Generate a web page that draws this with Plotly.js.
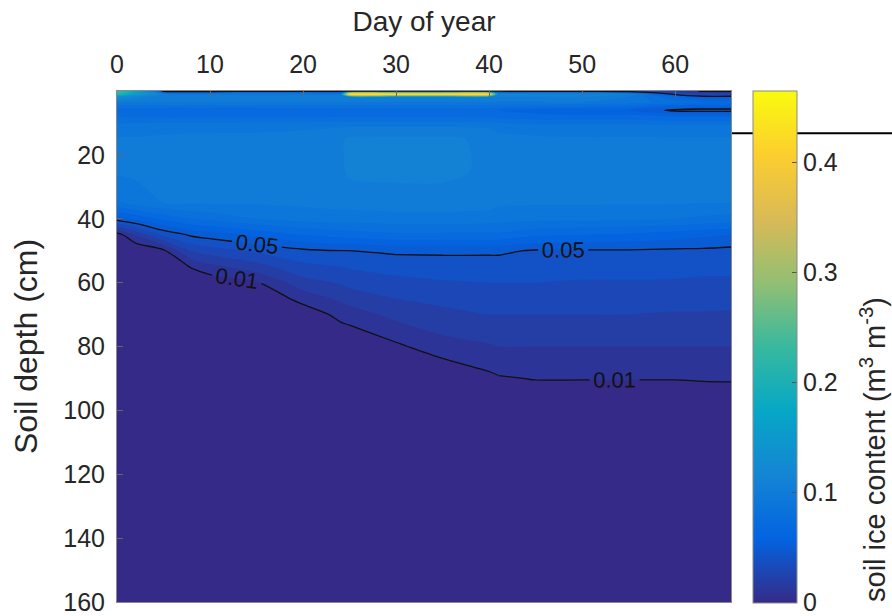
<!DOCTYPE html>
<html>
<head>
<meta charset="utf-8">
<script src="https://cdn.plot.ly/plotly-3.0.1.min.js"></script>
<style>html,body{margin:0;padding:0;background:#fff;}#chart{width:892px;height:616px;}</style>
</head>
<body>
<div id="chart"></div>
<script>
// Day of year (columns)
const days = [0, 2, 5, 8, 10, 15, 20, 24, 25, 30, 35, 40, 41, 45, 50, 55, 60, 63, 66];
// Soil depth in cm (rows)
const depths = [0, 1, 1.8, 3.5, 6, 8, 11, 15, 25, 35, 40, 45, 50, 55, 60, 65, 70, 80, 90, 100, 120, 160];
// Soil ice content (m3 m-3), one array per depth row
const ice_d0   = [0.25, 0.18, 0.04, 0.04, 0.04, 0.045, 0.045, 0.045, 0.045, 0.045, 0.045, 0.045, 0.045, 0.04, 0.04, 0.035, 0.02, 0.008, 0.008];
const ice_d1   = [0.22, 0.16, 0.11, 0.10, 0.10, 0.10, 0.10, 0.10, 0.45, 0.45, 0.45, 0.44, 0.12, 0.12, 0.12, 0.11, 0.045, 0.03, 0.03];
const ice_d2   = [0.14, 0.12, 0.10, 0.10, 0.10, 0.10, 0.10, 0.10, 0.11, 0.11, 0.11, 0.11, 0.11, 0.11, 0.11, 0.10, 0.07, 0.055, 0.055];
const ice_d3   = [0.10, 0.10, 0.10, 0.10, 0.10, 0.10, 0.10, 0.10, 0.10, 0.10, 0.10, 0.10, 0.10, 0.10, 0.10, 0.095, 0.085, 0.08, 0.08];
const ice_d6   = [0.075, 0.074, 0.072, 0.072, 0.072, 0.072, 0.073, 0.073, 0.073, 0.073, 0.073, 0.072, 0.07, 0.065, 0.062, 0.06, 0.047, 0.045, 0.045];
const ice_d8   = [0.08, 0.079, 0.078, 0.078, 0.078, 0.078, 0.078, 0.079, 0.079, 0.079, 0.079, 0.078, 0.077, 0.074, 0.073, 0.073, 0.07, 0.07, 0.07];
const ice_d11  = [0.095, 0.095, 0.096, 0.096, 0.096, 0.097, 0.098, 0.099, 0.099, 0.099, 0.099, 0.098, 0.097, 0.094, 0.094, 0.094, 0.093, 0.093, 0.093];
const ice_d15  = [0.101, 0.101, 0.102, 0.103, 0.103, 0.103, 0.104, 0.108, 0.112, 0.112, 0.112, 0.108, 0.103, 0.102, 0.101, 0.101, 0.101, 0.101, 0.101];
const ice_d25  = [0.102, 0.102, 0.102, 0.103, 0.103, 0.103, 0.104, 0.108, 0.112, 0.113, 0.113, 0.108, 0.104, 0.103, 0.102, 0.102, 0.102, 0.102, 0.102];
const ice_d35  = [0.088, 0.095, 0.1, 0.101, 0.101, 0.101, 0.102, 0.104, 0.104, 0.105, 0.105, 0.104, 0.102, 0.101, 0.101, 0.101, 0.101, 0.1, 0.1];
const ice_d40  = [0.055, 0.062, 0.072, 0.08, 0.083, 0.09, 0.094, 0.095, 0.095, 0.096, 0.096, 0.095, 0.094, 0.093, 0.093, 0.092, 0.09, 0.088, 0.086];
const ice_d45  = [0.005, 0.021, 0.042, 0.052, 0.055, 0.062, 0.07, 0.074, 0.075, 0.078, 0.078, 0.078, 0.078, 0.072, 0.07, 0.068, 0.065, 0.062, 0.06];
const ice_d50  = [0, 0, 0.008, 0.031, 0.035, 0.042, 0.048, 0.05, 0.05, 0.052, 0.052, 0.052, 0.052, 0.049, 0.049, 0.049, 0.048, 0.048, 0.047];
const ice_d55  = [0, 0, 0, 0.011, 0.017, 0.026, 0.037, 0.04, 0.041, 0.044, 0.045, 0.045, 0.045, 0.045, 0.044, 0.044, 0.043, 0.043, 0.043];
const ice_d60  = [0, 0, 0, 0, 0.003, 0.009, 0.026, 0.031, 0.033, 0.037, 0.039, 0.04, 0.04, 0.04, 0.039, 0.039, 0.039, 0.038, 0.038];
const ice_d65  = [0, 0, 0, 0, 0, 0, 0.014, 0.022, 0.024, 0.03, 0.033, 0.035, 0.035, 0.035, 0.034, 0.034, 0.034, 0.034, 0.033];
const ice_d70  = [0, 0, 0, 0, 0, 0, 0.003, 0.013, 0.015, 0.023, 0.027, 0.03, 0.03, 0.03, 0.03, 0.03, 0.029, 0.029, 0.029];
const ice_d80  = [0, 0, 0, 0, 0, 0, 0, 0, 0, 0.008, 0.016, 0.019, 0.02, 0.02, 0.02, 0.02, 0.02, 0.02, 0.02];
const ice_d90  = [0, 0, 0, 0, 0, 0, 0, 0, 0, 0, 0, 0.0075, 0.009, 0.0105, 0.0105, 0.0105, 0.0105, 0.011, 0.0112];
const ice_d100 = [0, 0, 0, 0, 0, 0, 0, 0, 0, 0, 0, 0, 0, 0, 0, 0, 0, 0, 0];
const ice_d120 = [0, 0, 0, 0, 0, 0, 0, 0, 0, 0, 0, 0, 0, 0, 0, 0, 0, 0, 0];
const ice_d160 = [0, 0, 0, 0, 0, 0, 0, 0, 0, 0, 0, 0, 0, 0, 0, 0, 0, 0, 0];
const iceRows = [ice_d0, ice_d1, ice_d2, ice_d3, ice_d6, ice_d8, ice_d11, ice_d15, ice_d25, ice_d35, ice_d40, ice_d45,
                 ice_d50, ice_d55, ice_d60, ice_d65, ice_d70, ice_d80, ice_d90, ice_d100, ice_d120, ice_d160];

const xTicks = [0, 10, 20, 30, 40, 50, 60];
const yTicks = [20, 40, 60, 80, 100, 120, 140, 160];
const cbTicks = [0, 0.1, 0.2, 0.3, 0.4];
const cbTickText = ['0', '0.1', '0.2', '0.3', '0.4'];
const cbTitle = 'soil ice content (m<sup>3</sup> m<sup>-3</sup>)';
const xTitle = 'Day of year';
const yTitle = 'Soil depth (cm)';
const lineLevels = [0.01, 0.05];

const parula = [
  [0.0, '#352a87'], [0.125, '#0363e1'], [0.25, '#1485d4'], [0.375, '#06a7c6'],
  [0.5, '#38b99e'], [0.625, '#92bf73'], [0.75, '#d9ba56'], [0.875, '#fcce2e'], [1.0, '#f9fb0e']
];
const ZMAX = 0.465;
const FONT = 'Liberation Sans, Arial, sans-serif';
const TXT = '#262626';

const fill = {
  type: 'contour', x: days, y: depths, z: iceRows,
  colorscale: parula, zmin: 0, zmax: ZMAX, zauto: false,
  autocontour: false,
  contours: {start: 0.01, end: 0.46, size: 0.01, coloring: 'fill', showlines: false},
  line: {width: 0, smoothing: 0.8},
  showscale: false, hoverinfo: 'skip'
};

// one labelled contour level drawn over a slice of the day columns
function lineTrace(level, i0, i1) {
  return {
    type: 'contour', x: days.slice(i0, i1 + 1), y: depths,
    z: iceRows.map(r => r.slice(i0, i1 + 1)),
    autocontour: false,
    contours: {start: level, end: level, size: 1, coloring: 'none', showlabels: true,
               labelfont: {family: FONT, size: 22, color: '#111'}, labelformat: '.2f'},
    line: {color: '#111', width: 1.3, smoothing: 0.8},
    showscale: false, hoverinfo: 'skip'
  };
}
const last = days.length - 1;
const split05 = days.indexOf(30);
const split01 = days.indexOf(41);
const lineTraces = [
  lineTrace(lineLevels[1], 0, split05), lineTrace(lineLevels[1], split05, last),
  lineTrace(lineLevels[0], 0, split01), lineTrace(lineLevels[0], split01, last)
];

// continuous colour bar
const bar = {
  type: 'scatter', mode: 'markers', x: [null], y: [null], hoverinfo: 'skip',
  marker: {
    color: [0], cmin: -0.0008, cmax: ZMAX, colorscale: parula, showscale: true,
    colorbar: {
      x: 1.0358, xanchor: 'left', xpad: 0, ypad: 0,
      y: 1, yanchor: 'top', len: 512, lenmode: 'pixels',
      thickness: 44, thicknessmode: 'pixels',
      outlinecolor: '#8a8a8a', outlinewidth: 1,
      ticks: 'inside', ticklen: 5, tickcolor: '#555',
      tickvals: cbTicks, ticktext: cbTickText,
      tickfont: {family: FONT, size: 25, color: TXT}
    }
  }
};

const layout = {
  width: 892, height: 616,
  margin: {l: 117, r: 161, t: 91, b: 14},
  paper_bgcolor: '#fff', plot_bgcolor: '#fff',
  font: {family: FONT, color: TXT},
  showlegend: false,
  xaxis: {
    side: 'top', range: [0, 66], tickvals: xTicks,
    ticks: 'inside', ticklen: 6, tickcolor: '#666', ticklabelstandoff: 7,
    showline: true, linecolor: '#8a8a8a', linewidth: 1, mirror: true,
    showgrid: false, zeroline: false,
    tickfont: {family: FONT, size: 25, color: TXT},
    title: {text: xTitle, font: {family: FONT, size: 28, color: TXT}, standoff: 10}
  },
  yaxis: {
    range: [160, 0], tickvals: yTicks,
    ticks: 'inside', ticklen: 6, tickcolor: '#666', ticklabelstandoff: 6,
    showline: true, linecolor: '#8a8a8a', linewidth: 1, mirror: true,
    showgrid: false, zeroline: false,
    tickfont: {family: FONT, size: 25, color: TXT},
    title: {text: yTitle, font: {family: FONT, size: 32, color: TXT}, standoff: 16}
  },
  annotations: [{
    text: cbTitle, xref: 'paper', yref: 'paper', x: 1.2313, y: 0.2975,
    xanchor: 'center', yanchor: 'middle', textangle: -90, showarrow: false,
    font: {family: FONT, size: 29, color: TXT}
  }],
  shapes: [{type: 'line', xref: 'paper', yref: 'y', x0: 1.0, x1: 1.27, y0: 13.2, y1: 13.2,
            line: {color: '#000', width: 2}, layer: 'below'}]
};

Plotly.newPlot('chart', [fill].concat(lineTraces, [bar]), layout,
  {displayModeBar: false, staticPlot: true});
</script>
</body>
</html>
